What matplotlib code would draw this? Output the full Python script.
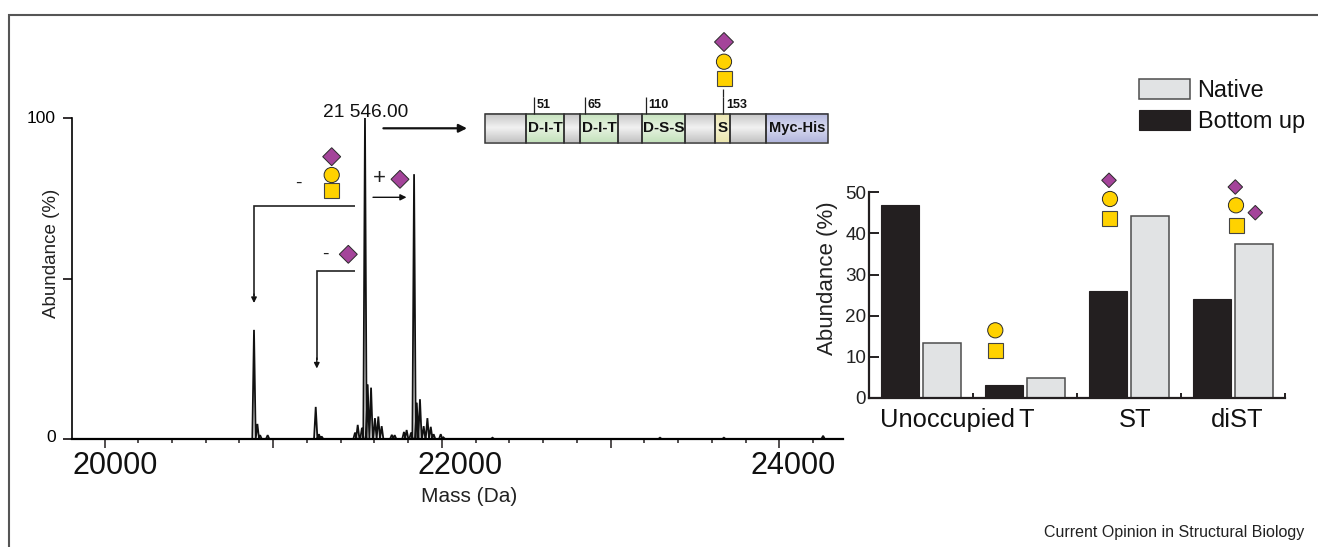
import numpy as np
import matplotlib
matplotlib.use("Agg")
import matplotlib.pyplot as plt
from matplotlib.patches import Circle, Rectangle, Polygon, Patch
from matplotlib.transforms import ScaledTranslation

plt.rcParams['font.family'] = ['Liberation Sans', 'DejaVu Sans']

# ---- data ----
peak_mass = [20886, 20906, 20922, 20967, 21252, 21271, 21287,
             21485, 21501, 21526, 21544, 21560, 21580, 21603, 21623, 21643,
             21703, 21720, 21775, 21791, 21817, 21835, 21851, 21870, 21892,
             21914, 21934, 21951, 21993, 22009, 22300, 23293, 23672, 24260]
peak_abundance = [34, 4.7, 1.2, 1.2, 10, 1.5, 0.8,
                  2, 4.4, 3.5, 100, 17, 16, 6.5, 7, 4,
                  1.3, 1.2, 2.2, 2.8, 2, 82.5, 11.3, 12.4, 4,
                  6.5, 3.8, 1.5, 1.5, 0.5, 0.4, 0.4, 0.4, 1.0]
spec_ticks = [20000, 21000, 22000, 23000, 24000]
spec_tick_labels = ['20000', '', '22000', '', '24000']
spec_label_shift = [11, 0, 18.6, 0, 14]

categories = ['Unoccupied', 'T', 'ST', 'diST']
bottom_up = [47, 3.2, 26, 24]
native = [13.4, 4.8, 44.3, 37.4]
cat_label_shift = [26.5, 0.7, 6, 3.7]

domains = [(485, 526, 'g', ''), (526, 564, 'd', 'D-I-T'), (564, 580, 'g', ''),
           (580, 618, 'd', 'D-I-T'), (618, 642, 'g', ''), (642, 685, 'd', 'D-S-S'),
           (685, 715, 'g', ''), (715, 730, 's', 'S'), (730, 766, 'g', ''),
           (766, 828, 'm', 'Myc-His')]
sites = [(534, '51'), (585, '65'), (645.7, '110'), (723.3, '153')]

W, H = 1318, 547
INK = '#231f20'
PURPLE, YELLOW = '#a4449a', '#ffd200'
fig = plt.figure(figsize=(W / 100, H / 100), dpi=100)
def rect(l, t, r, b):
    return [l / W, (H - b) / H, (r - l) / W, (b - t) / H]
def shift(label, dx, dy=0):
    label.set_transform(label.get_transform() + ScaledTranslation(dx / 100, dy / 100, fig.dpi_scale_trans))

# ---- spectrum ----
ax = fig.add_axes(rect(72, 118, 843, 439))
w = 10
order = np.argsort(peak_mass)
xs = np.concatenate([[19807]] + [[peak_mass[i] - w, peak_mass[i], peak_mass[i] + w] for i in order] + [[24378]])
ys = np.concatenate([[0]] + [[0, peak_abundance[i], 0] for i in order] + [[0]])
ax.plot(xs, ys, color='#111111', lw=1.3, solid_joinstyle='miter', clip_on=False)
ax.set_xlim(19807, 24378)
ax.set_ylim(0, 100)
for s in ('top', 'right'):
    ax.spines[s].set_visible(False)
ax.spines['left'].set_linewidth(1.2)
ax.spines['bottom'].set_linewidth(1.6)
ax.set_xticks(spec_ticks, spec_tick_labels, fontsize=22)
ax.set_xticks(np.arange(20000, 24400, 200), minor=True)
ax.tick_params(axis='x', which='major', length=6.5, width=1.1, pad=2, color=INK, labelcolor='#111111')
ax.tick_params(axis='x', which='minor', length=3.2, width=1.1, color=INK)
for lab, d in zip(ax.get_xticklabels(), spec_label_shift):
    shift(lab, d)
ax.set_yticks([0, 50, 100], ['0', '', '100'], fontsize=12.5)
ax.tick_params(axis='y', length=6.5, width=1.3, pad=5, color=INK)
for lab, d in zip(ax.get_yticklabels(), [3, 0, 1]):
    shift(lab, 0, d)
ax.set_xlabel('Mass (Da)', fontsize=15, color='#222222')
ax.xaxis.set_label_coords((469 - 72) / 771, (439 - 496) / 321, )
ax.xaxis.label.set_va('center')
ax.set_ylabel('Abundance (%)', fontsize=13.5, color='#222222', va='center')
ax.yaxis.set_label_coords((51 - 72) / 771, (439 - 253.7) / 321)

# ---- bars ----
bx = fig.add_axes(rect(869, 192.3, 1285, 398))
pos = np.arange(len(categories))
bx.bar(pos - 0.2, bottom_up, 0.365, color=INK, edgecolor=INK, lw=0.8, label='Bottom up')
bx.bar(pos + 0.2, native, 0.36, color='#e1e3e4', edgecolor='#4d4d4d', lw=1.1, label='Native')
bx.set_xlim(-0.5, 3.5)
bx.set_ylim(0, 50)
for s in ('top', 'right'):
    bx.spines[s].set_visible(False)
for s in ('left', 'bottom'):
    bx.spines[s].set_linewidth(1.6)
    bx.spines[s].set_color(INK)
bx.set_xticks(pos, categories, fontsize=18.4)
bx.set_xticks(pos + 0.5, minor=True)
bx.tick_params(axis='x', which='major', length=0, pad=7.5, labelcolor='#111111')
bx.tick_params(axis='x', which='minor', direction='in', length=3.6, width=1.4, color=INK)
for lab, d in zip(bx.get_xticklabels(), cat_label_shift):
    shift(lab, d)
bx.set_yticks(np.arange(0, 51, 10))
bx.tick_params(axis='y', direction='in', length=7.2, width=1.4, pad=2, labelsize=13.6, color=INK, labelcolor='#222222')
bx.set_ylabel('Abundance (%)', fontsize=16, color='#222222', va='center')
bx.yaxis.set_label_coords((827.5 - 869) / 416, (398 - 278) / 205.7)

fig.legend(handles=[Patch(facecolor='#e1e3e4', edgecolor='#4d4d4d', lw=1.1, label='Native'),
                    Patch(facecolor=INK, edgecolor=INK, lw=0.8, label='Bottom up')],
           loc='upper left', bbox_to_anchor=(1138.7 / W, 1 - 79 / H), frameon=False, fontsize=16.9,
           handlelength=2.2, handleheight=0.93, handletextpad=0.31, labelspacing=0.33,
           borderpad=0, borderaxespad=0, labelcolor='#111111')

# ---- overlay in image pixels ----
ov = fig.add_axes([0, 0, 1, 1], facecolor='none')
ov.set_xlim(0, W)
ov.set_ylim(H, 0)
ov.axis('off')
def line(xs, ys, lw=1.0, color='#222222'):
    ov.plot(xs, ys, color=color, lw=lw, solid_capstyle='butt', solid_joinstyle='miter')
def arrow(x0, y0, x1, y1, lw=1.0, ms=8):
    ov.annotate('', xy=(x1, y1), xytext=(x0, y0), xycoords='data', textcoords='data',
                arrowprops=dict(arrowstyle='-|>', color='#111111', lw=lw, mutation_scale=ms,
                                shrinkA=0, shrinkB=0))
def diamond(x, y, r=9):
    ov.add_patch(Polygon([(x, y - r), (x + r, y), (x, y + r), (x - r, y)], fc=PURPLE, ec='#2a2a2a', lw=0.7))
def circle(x, y, r=7.6):
    ov.add_patch(Circle((x, y), r, fc=YELLOW, ec='#2a2a2a', lw=0.7))
def square(x, y, r=7.5):
    ov.add_patch(Rectangle((x - r, y - r), 2 * r, 2 * r, fc=YELLOW, ec='#444444', lw=0.8))

line([9, 9, W], [H, 14.5, 14.5], lw=1.5, color='#555555')

# mass arrows and glycans
line([355, 254, 254], [205.7, 205.7, 296], lw=1.2)
arrow(254, 294, 254, 303, ms=8)
line([355, 316.8, 316.8], [270.7, 270.7, 360], lw=1.2)
arrow(316.8, 358, 316.8, 368.5, ms=8)
arrow(373, 197.3, 406.5, 197.3, lw=1.0, ms=9)
arrow(383.4, 128.3, 467, 128.3, lw=1.6, ms=12)
ov.text(366, 112.5, '21 546.00', fontsize=13.8, ha='center', va='center', color='#111111')
ov.text(298, 183, '-', fontsize=14, ha='center', va='center', color='#222222')
ov.text(325, 254, '-', fontsize=14, ha='center', va='center', color='#222222')
ov.text(379.3, 178, '+', fontsize=16, ha='center', va='center', color='#222222')
diamond(331.7, 156.7); circle(331.7, 175); square(331.7, 190.8)
diamond(348.3, 254.3); diamond(400, 179.3)

# domain map
grads = {'g': ('#c4c4c4', '#f2f2f2'), 'd': ('#c5e2bd', '#e6f3e0'),
         's': ('#ebe6b0', '#f5f1cf'), 'm': ('#b3b7dd', '#d8daf0')}
t, b = 114, 142.5
for x0, x1, kind, name in domains:
    lo, hi = matplotlib.colors.to_rgb(grads[kind][0]), matplotlib.colors.to_rgb(grads[kind][1])
    u = np.abs(np.linspace(-1, 1, 40))[:, None, None]
    img = (1 - u) * np.array(hi)[None, None, :] + u * np.array(lo)[None, None, :]
    ov.imshow(img, extent=(x0, x1, b, t), aspect='auto', zorder=1)
    ov.add_patch(Rectangle((x0, t), x1 - x0, b - t, fc='none', ec='#333333', lw=1.1, zorder=2))
    if name:
        ov.text((x0 + x1) / 2, (t + b) / 2, name, fontsize=11 if kind != 'm' else 10.5, fontweight='bold',
                ha='center', va='center', color='#111111', zorder=3)
ov.set_xlim(0, W)
ov.set_ylim(H, 0)
for x, s in sites:
    line([x, x], [96.7, t], lw=0.9)
    ov.text(x + 2.6, 105.5, s, fontsize=9, fontweight='bold', ha='left', va='center', color='#111111')
line([723.3, 723.3], [89.3, 97], lw=0.9)
diamond(724, 42, 9.5); circle(724, 61.7); square(724, 78.4)

# glycans on bars
circle(995.3, 330.3); square(995.5, 350.2)
diamond(1109, 180.3, 7.3); circle(1110, 199); square(1109.8, 218.8)
diamond(1235.3, 187, 7.3); circle(1236, 205.3); square(1236.2, 225.2); diamond(1255.3, 212.7, 7.3)

ov.text(1304, 532.7, 'Current Opinion in Structural Biology', fontsize=11.5, ha='right', va='center',
        color='#222222')

fig.savefig('out.png', dpi=100)
